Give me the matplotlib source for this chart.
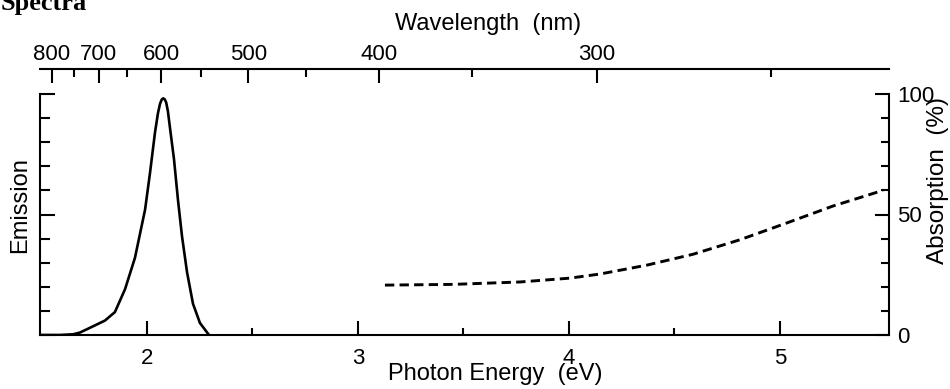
import numpy as np
import matplotlib
matplotlib.use("Agg")
import matplotlib.pyplot as plt
from matplotlib.ticker import MultipleLocator, FixedLocator

# ---- data ----
em_energy = [1.493, 1.588, 1.650, 1.682, 1.730, 1.801, 1.848, 1.896, 1.943, 1.967,
             1.991, 2.014, 2.038, 2.052, 2.062, 2.070, 2.077, 2.084, 2.091, 2.099,
             2.109, 2.128, 2.147, 2.166, 2.190, 2.218, 2.251, 2.294]
em_values = [0.0, 0.0, 0.003, 0.01, 0.03, 0.06, 0.095, 0.19, 0.32, 0.42,
             0.52, 0.67, 0.84, 0.92, 0.96, 0.977, 0.982, 0.978, 0.965, 0.93,
             0.86, 0.73, 0.56, 0.41, 0.26, 0.13, 0.05, 0.0]

abs_energy = [3.128, 3.450, 3.768, 4.005, 4.147, 4.370, 4.588, 4.810, 5.033, 5.251, 5.488]
abs_values = [20.7, 21.0, 22.0, 23.6, 25.3, 29.0, 33.5, 39.5, 46.5, 53.5, 60.0]

energy_ticks = [2, 3, 4, 5]
energy_minor = [2.5, 3.5, 4.5]
wavelength_major = [800, 700, 600, 500, 400, 300]
wavelength_minor = [750, 650, 550, 450, 350, 250]
absorption_ticks = [0, 50, 100]
emission_ticks = [0, 0.5, 1.0]

HC = 1239.84

W, H = 950, 389
fig = plt.figure(figsize=(W / 100, H / 100), dpi=100)
L, R, T, B = 40, 889, 94, 335
ax = fig.add_axes([L / W, (H - B) / H, (R - L) / W, (B - T) / H])
ax.set_xlim(1.493, 5.517)
ax.set_ylim(0, 1)

sans = ["Liberation Sans", "DejaVu Sans"]
LW = 1.5
TICKFS = 16

ax.plot(em_energy, em_values, color="black", lw=1.9, solid_joinstyle="round")

for s in ["top", "right"]:
    ax.spines[s].set_visible(False)
for s in ["left", "bottom"]:
    ax.spines[s].set_linewidth(LW)

ax.set_xticks(energy_ticks)
ax.set_xticklabels([str(v) for v in energy_ticks])
ax.xaxis.set_minor_locator(FixedLocator(energy_minor))
ax.set_yticks(emission_ticks)
ax.yaxis.set_minor_locator(MultipleLocator(0.1))
ax.tick_params(axis="x", which="both", direction="in", width=LW, pad=9, labelsize=TICKFS)
ax.tick_params(axis="x", which="major", length=10)
ax.tick_params(axis="x", which="minor", length=5)
ax.tick_params(axis="y", which="both", direction="in", width=LW, labelleft=False)
ax.tick_params(axis="y", which="major", length=10.5)
ax.tick_params(axis="y", which="minor", length=7)
for lab in ax.get_xticklabels():
    lab.set_fontfamily(sans)

# right axis: absorption
ax2 = ax.twinx()
ax2.set_ylim(0, 100)
ax2.plot(abs_energy, abs_values, color="black", lw=2.1, linestyle=(0, (3.2, 1.8)))
for s in ["top", "left", "bottom"]:
    ax2.spines[s].set_visible(False)
ax2.spines["right"].set_linewidth(LW)
ax2.set_yticks(absorption_ticks)
ax2.set_yticklabels([str(v) for v in absorption_ticks])
ax2.yaxis.set_minor_locator(MultipleLocator(10))
ax2.tick_params(axis="y", which="both", direction="in", width=LW, pad=6, labelsize=TICKFS)
ax2.tick_params(axis="y", which="major", length=10)
ax2.tick_params(axis="y", which="minor", length=5.5)
for lab in ax2.get_yticklabels():
    lab.set_fontfamily(sans)

# top axis: wavelength
def e2w(e):
    e = np.asarray(e, dtype=float)
    with np.errstate(divide="ignore"):
        return HC / e

top_loc = (B - 69) / (B - T)
sec = ax.secondary_xaxis(top_loc, functions=(e2w, e2w))
sec.set_xticks(wavelength_major)
sec.set_xticklabels([str(v) for v in wavelength_major])
sec.xaxis.set_minor_locator(FixedLocator(wavelength_minor))
sec.spines["top"].set_linewidth(LW)
sec.tick_params(axis="x", which="both", direction="in", width=LW, pad=3, labelsize=TICKFS)
sec.tick_params(axis="x", which="major", length=10)
sec.tick_params(axis="x", which="minor", length=6)
for lab in sec.get_xticklabels():
    lab.set_fontfamily(sans)

# labels
fig.text(488 / W, 1 - 24 / H, "Wavelength  (nm)", ha="center", va="center",
         fontsize=17, family=sans)
fig.text(495 / W, 1 - 374 / H, "Photon Energy  (eV)", ha="center", va="center",
         fontsize=17, family=sans)
fig.text(20 / W, 1 - 205 / H, "Emission", ha="center", va="center",
         rotation=90, fontsize=17, family=sans)
fig.text(938 / W, 1 - 180 / H, "Absorption  (%)", ha="center", va="center",
         rotation=90, fontsize=17.5, family=sans)
fig.text(1 / W, 1 - 10 / H, "Spectra", ha="left", va="baseline",
         fontsize=19, fontweight="bold", family=["Liberation Serif", "DejaVu Serif"])

fig.savefig("out.png", dpi=100)
